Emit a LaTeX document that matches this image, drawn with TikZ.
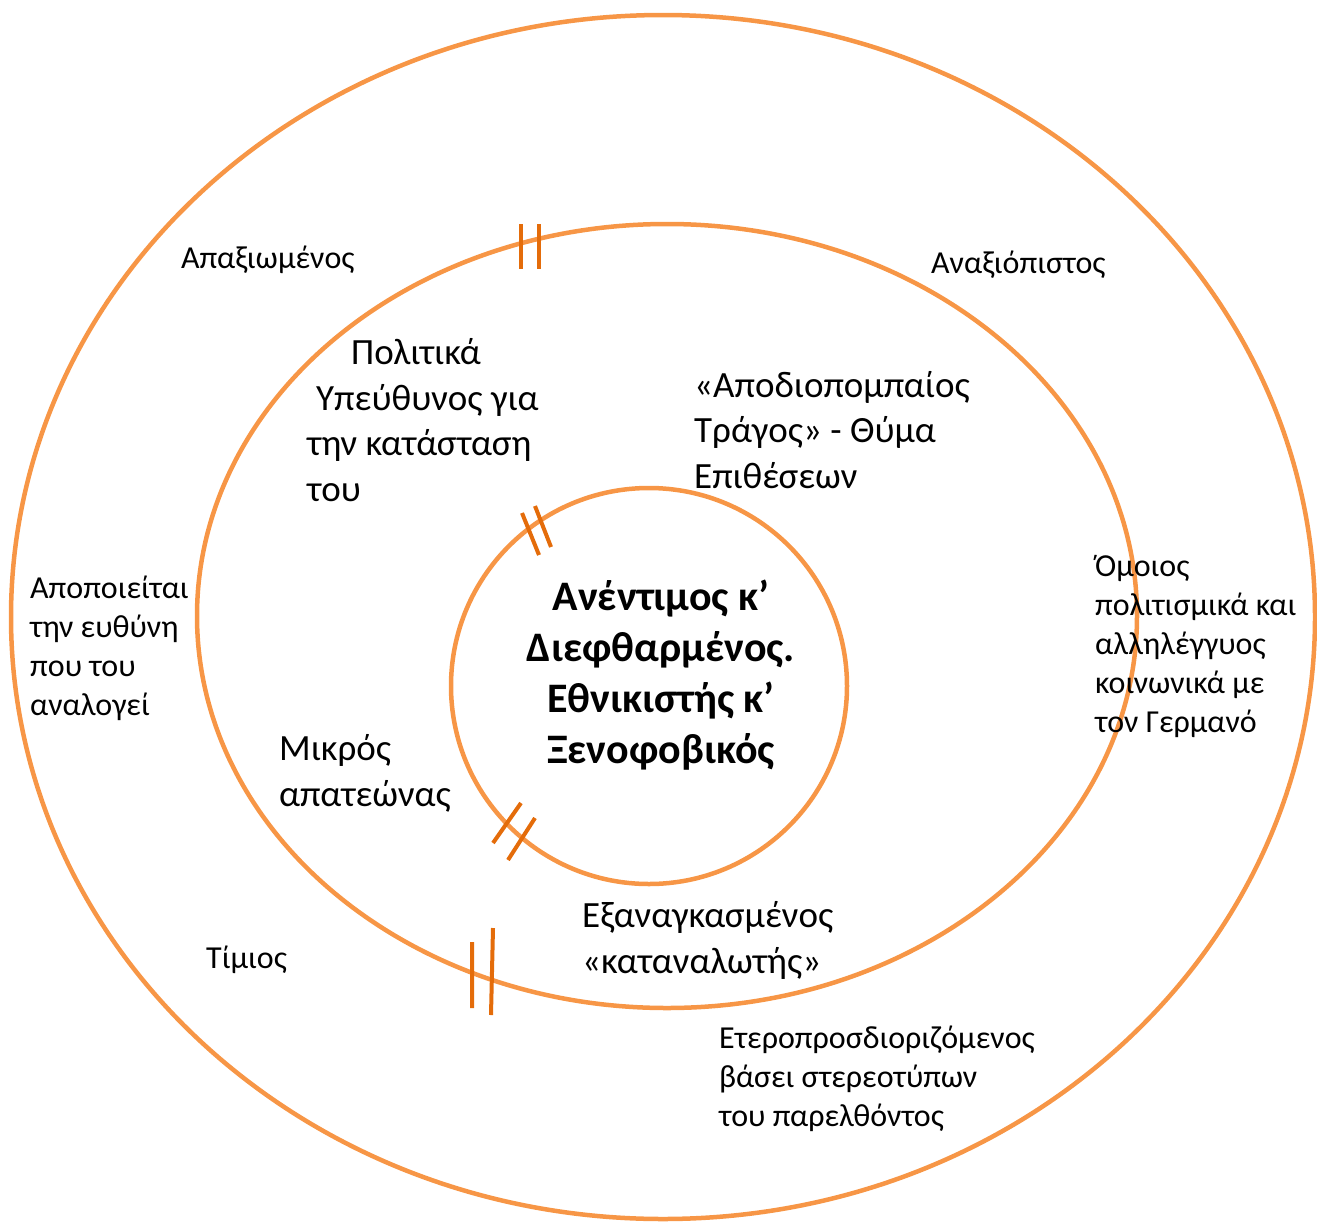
\documentclass[tikz,border=0pt]{standalone}
\usepackage{fontspec}
\setmainfont{Carlito}
\definecolor{ringorange}{HTML}{F79646}
\definecolor{tickorange}{HTML}{E46C0A}
\begin{document}
\begin{tikzpicture}[x=1pt,y=-1pt,
	ring/.style={draw=ringorange,line width=4.5pt},
	tick/.style={draw=tickorange,line width=4pt},
	small/.style={anchor=base west,align=left,inner sep=0pt,font=\fontsize{32}{39}\selectfont},
	medium/.style={anchor=base west,align=left,inner sep=0pt,font=\fontsize{37}{45.5}\selectfont},
	core/.style={anchor=base,align=center,inner sep=0pt,font=\fontsize{42}{51}\selectfont\bfseries}]
	\useasboundingbox (0,0) rectangle (1317,1221);
	% rings
	\draw[ring] (663,617) ellipse [x radius=652pt,y radius=602pt];
	\draw[ring] (667,616) ellipse [x radius=470pt,y radius=392pt];
	\draw[ring] (649,686) circle [radius=198pt];
	% double ticks
	\draw[tick] (521,224) -- (521,269) (539,224) -- (539,269);
	\draw[tick] (522,513) -- (539,555) (535,506) -- (551,547);
	\draw[tick] (521,803) -- (493,843) (535,818) -- (508,860);
	\draw[tick] (472,942) -- (472,1008) (493,928) -- (491,1015);
	% centre (base = last line)
	\node[core] (centre) at (661,763) {Ανέντιμος κ’\\Διεφθαρμένος.\\Εθνικιστής κ’\\Ξενοφοβικός};
	% middle ring
	\node[medium] (politika) at (307,501) {\hspace*{44pt}Πολιτικά\\\hspace*{9pt}Υπεύθυνος για\\την κατάσταση\\του};
	\node[medium] (tragos) at (694,488) {«Αποδιοπομπαίος\\Τράγος» - Θύμα\\Επιθέσεων};
	\node[medium] (mikros) at (279,806) {Μικρός\\απατεώνας};
	\node[medium] (katanal) at (582,973) {Εξαναγκασμένος\\«καταναλωτής»};
	% outer ring
	\node[small] (apax) at (181,268) {Απαξιωμένος};
	\node[small] (anax) at (931,273) {Αναξιόπιστος};
	\node[small] (apopoi) at (30,715) {Αποποιείται\\την ευθύνη\\που του\\αναλογεί};
	\node[small] (omoios) at (1095,732) {Όμοιος\\πολιτισμικά και\\αλληλέγγυος\\κοινωνικά με\\τον Γερμανό};
	\node[small] (timios) at (206,968) {Τίμιος};
	\node[small] (etero) at (719,1126) {Ετεροπροσδιοριζόμενος\\βάσει στερεοτύπων\\του παρελθόντος};
\end{tikzpicture}
\end{document}
